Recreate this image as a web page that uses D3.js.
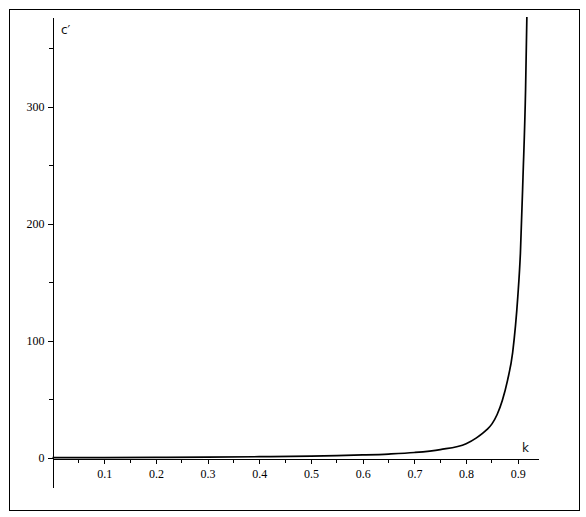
<!DOCTYPE html>
<html>
<head>
<meta charset="utf-8">
<script src="https://cdn.jsdelivr.net/npm/d3@7"></script>
<style>
  body { margin: 0; background: #fff; }
  svg { display: block; }
  .axis text { font-family: "Liberation Serif", "Times New Roman", serif; font-size: 12px; fill: #000; }
  .axis path, .axis line { stroke: #000; stroke-width: 1; shape-rendering: crispEdges; }
  .lbl { font-family: "DejaVu Sans", "Liberation Sans", sans-serif; font-size: 12px; fill: #111; }
</style>
</head>
<body>
<svg width="586" height="517"></svg>
<script>
// values
const kValues = [0, 0.1, 0.2, 0.3, 0.4, 0.5, 0.55, 0.6, 0.65, 0.7, 0.75, 0.8, 0.82, 0.84, 0.85, 0.86, 0.87, 0.88, 0.89, 0.9, 0.905, 0.91, 0.915, 0.9175];
const cValues = [0.1, 0.15, 0.3, 0.5, 0.9, 1.4, 1.8, 2.4, 3.2, 4.5, 7, 12, 17, 24, 29, 37, 49, 66, 90, 138, 175, 240, 315, 377];
const xTicks = [0.1, 0.2, 0.3, 0.4, 0.5, 0.6, 0.7, 0.8, 0.9];
const xMinor = [0.05, 0.15, 0.25, 0.35, 0.45, 0.55, 0.65, 0.75, 0.85];
const yTicks = [0, 100, 200, 300];
const yMinor = [50, 150, 250, 350];

const svg = d3.select("svg");

// frame
svg.append("rect")
    .attr("x", 9.5).attr("y", 9.5)
    .attr("width", 570).attr("height", 501)
    .attr("fill", "none").attr("stroke", "#000");

const x = d3.scaleLinear().domain([0, 0.94]).range([52.5, 538.5]);
const y = d3.scaleLinear().domain([-25, 377]).range([487, 17]);

const xAxisG = svg.append("g")
    .attr("class", "axis")
    .attr("transform", `translate(0,${Math.round(y(0)) + 0.5})`);

xAxisG.call(d3.axisBottom(x)
    .tickValues(xTicks)
    .tickFormat(d3.format(".1f"))
    .tickSize(5)
    .tickSizeOuter(0)
    .tickPadding(6));

xAxisG.append("g").selectAll("line")
    .data(xMinor)
    .enter().append("line")
    .attr("x1", d => x(d)).attr("x2", d => x(d))
    .attr("y1", 0).attr("y2", 4);

const yAxisG = svg.append("g")
    .attr("class", "axis")
    .attr("transform", `translate(${Math.round(x(0)) - 0.5},0)`);

yAxisG.call(d3.axisLeft(y)
    .tickValues(yTicks)
    .tickSize(5)
    .tickSizeOuter(0)
    .tickPadding(3));

yAxisG.append("g").selectAll("line")
    .data(yMinor)
    .enter().append("line")
    .attr("y1", d => y(d)).attr("y2", d => y(d))
    .attr("x1", 0).attr("x2", -4);

svg.selectAll(".axis").attr("font-family", "Liberation Serif, serif").attr("font-size", 12);

// axis labels
svg.append("text").attr("class", "lbl")
    .attr("x", 61).attr("y", 34)
    .text("c\u2032");

svg.append("text").attr("class", "lbl")
    .attr("x", 522).attr("y", 452)
    .text("k");

// curve
const points = kValues.map((k, i) => [k, cValues[i]]);

const line = d3.line()
    .x(d => x(d[0]))
    .y(d => y(d[1]))
    .curve(d3.curveMonotoneX);

svg.append("path")
    .datum(points)
    .attr("fill", "none")
    .attr("stroke", "#000")
    .attr("stroke-width", 1.7)
    .attr("d", line);
</script>
</body>
</html>
